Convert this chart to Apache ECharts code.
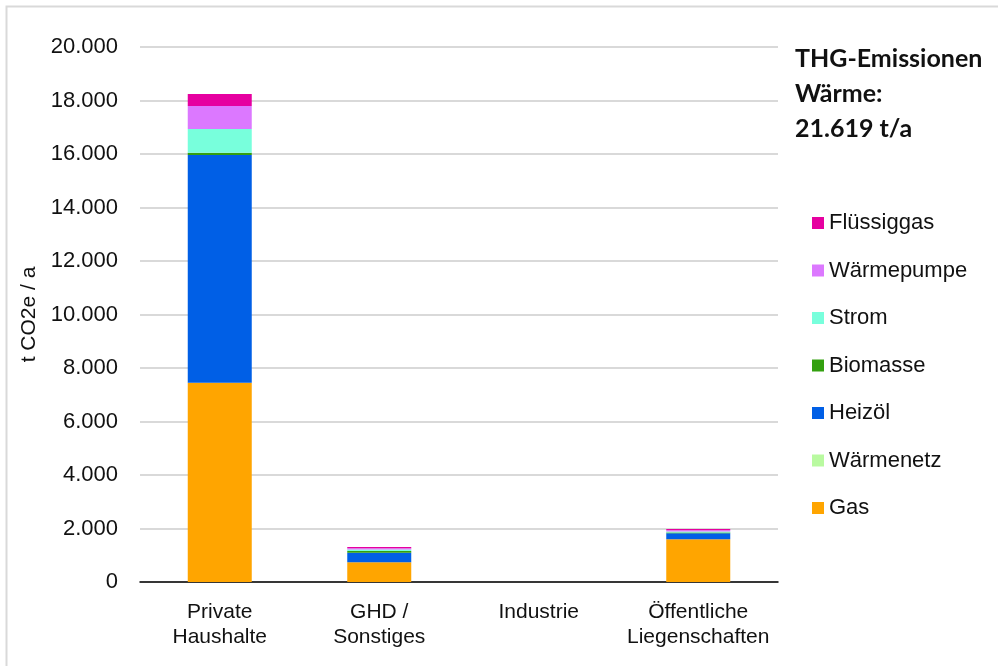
<!DOCTYPE html>
<html>
<head>
<meta charset="utf-8">
<script src="https://cdn.jsdelivr.net/npm/echarts@6/dist/echarts.min.js"></script>
<style>html,body{margin:0;padding:0;background:#fff}#c{width:998px;height:666px}</style>
</head>
<body>
<div id="c"></div>
<script>
var categories = ['Private\nHaushalte', 'GHD /\nSonstiges', 'Industrie', 'Öffentliche\nLiegenschaften'];
var gas         = [7450, 740, 0, 1600];
var waermenetz  = [0, 0, 0, 0];
var heizoel     = [8510, 355, 0, 220];
var biomasse    = [90, 60, 0, 30];
var strom       = [880, 60, 0, 40];
var waermepumpe = [860, 50, 0, 40];
var fluessiggas = [450, 45, 0, 50];
var yTicks = [0, 2000, 4000, 6000, 8000, 10000, 12000, 14000, 16000, 18000, 20000];
var titleLines = ['THG-Emissionen', 'Wärme:', '21.619 t/a'];

var seriesDefs = [
  ['Gas', gas, '#FFA500'],
  ['Wärmenetz', waermenetz, '#B9FAA0'],
  ['Heizöl', heizoel, '#005FE6'],
  ['Biomasse', biomasse, '#33A00F'],
  ['Strom', strom, '#78FFDC'],
  ['Wärmepumpe', waermepumpe, '#DC78FF'],
  ['Flüssiggas', fluessiggas, '#E600A0']
];

var font = "'Liberation Sans', Arial, sans-serif";
var chart = echarts.init(document.getElementById('c'), null, {renderer: 'canvas'});
chart.setOption({
  animation: false,
  backgroundColor: '#fff',
  title: {
    text: titleLines.join('\n'),
    left: 790, top: 36,
    textStyle: {fontFamily: 'Lato, sans-serif', fontWeight: 'bold', fontSize: 25, lineHeight: 35, color: '#111'}
  },
  legend: {
    orient: 'vertical',
    left: 807, top: 207,
    itemWidth: 12, itemHeight: 12, itemGap: 25.5,
    icon: 'rect',
    data: seriesDefs.map(function(s){return s[0];}).reverse(),
    textStyle: {fontFamily: font, fontSize: 22, color: '#111', lineHeight: 20}
  },
  graphic: [{
    type: 'rect', shape: {x: 6.5, y: 6.5, width: 1000, height: 700},
    style: {fill: 'none', stroke: '#d9d9d9', lineWidth: 2}, silent: true
  }],
  grid: {left: 140, right: 220, top: 47, bottom: 84},
  xAxis: {
    type: 'category', data: categories,
    axisLine: {lineStyle: {color: '#000', width: 1.5}},
    axisTick: {show: false},
    axisLabel: {fontFamily: font, fontSize: 21, color: '#111', lineHeight: 25, margin: 18, interval: 0}
  },
  yAxis: {
    type: 'value', min: 0, max: 20000, interval: 2000,
    name: 't CO2e / a', nameLocation: 'middle', nameGap: 91,
    nameTextStyle: {fontFamily: font, fontSize: 21, color: '#111'},
    axisLine: {show: false}, axisTick: {show: false},
    splitLine: {lineStyle: {color: '#d9d9d9', width: 2}},
    axisLabel: {
      fontFamily: font, fontSize: 22, color: '#111', margin: 22,
      formatter: function(v){ return yTicks.indexOf(v) >= 0 ? v.toLocaleString('de-DE') : ''; }
    }
  },
  series: seriesDefs.map(function(s){
    return {
      name: s[0], type: 'bar', stack: 'total', data: s[1], barWidth: 64,
      itemStyle: {color: s[2]}
    };
  })
});
</script>
</body>
</html>
